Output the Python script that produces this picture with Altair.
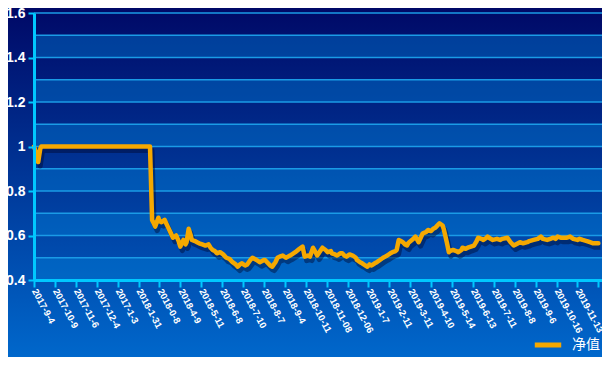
import json
import altair as alt
import pandas as pd

# trading-day index (one axis tick every 20 trading days) and net value
day = [0, 3, 4, 6, 7, 111, 113, 114, 116, 119, 120, 122, 125, 128, 130, 133, 136, 138, 140, 143,
       145, 146, 148, 150, 151, 154, 156, 158, 161, 164, 167, 169, 171, 173, 175, 178, 181, 184, 187, 190,
       193, 195, 197, 199, 202, 204, 207, 209, 213, 216, 220, 221, 224, 226, 228, 231, 233, 235, 238, 241,
       243, 245, 250, 254, 257, 259, 262, 264, 267, 270, 271, 276, 279, 281, 284, 285, 288, 290, 293, 295,
       297, 299, 302, 305, 308, 309, 312, 314, 317, 319, 321, 323, 326, 328, 331, 334, 336, 338, 341, 343,
       346, 347, 349, 351, 353, 355, 357, 358, 359, 363, 365, 368, 370, 372, 375, 377, 380, 382, 384, 385,
       388, 391, 392, 395, 397, 398, 401, 404, 406, 409, 410, 413, 415, 418, 421, 423, 425, 428, 430, 433,
       434, 437, 439, 443, 446, 448, 453, 456, 459, 461, 465, 468, 472, 474, 478, 482, 485, 487, 491, 494,
       497, 499, 501, 504, 506, 510, 513, 516, 520, 522, 525, 529, 532, 535, 540]
nav = [1.0, 0.96, 0.93, 0.99, 1.0, 1.0, 0.67, 0.66, 0.64, 0.68, 0.665, 0.66, 0.67, 0.64, 0.62, 0.59, 0.60, 0.58, 0.55, 0.58,
       0.56, 0.57, 0.63, 0.60, 0.58, 0.575, 0.57, 0.565, 0.56, 0.555, 0.56, 0.545, 0.535, 0.53, 0.52, 0.525, 0.515, 0.50, 0.495, 0.48,
       0.47, 0.46, 0.47, 0.475, 0.465, 0.47, 0.49, 0.50, 0.49, 0.48, 0.49, 0.49, 0.475, 0.465, 0.46, 0.48, 0.50, 0.505, 0.51, 0.50,
       0.505, 0.51, 0.525, 0.54, 0.55, 0.505, 0.51, 0.505, 0.545, 0.52, 0.51, 0.545, 0.535, 0.525, 0.53, 0.52, 0.515, 0.51, 0.52, 0.52,
       0.51, 0.505, 0.515, 0.51, 0.50, 0.49, 0.48, 0.475, 0.465, 0.46, 0.47, 0.465, 0.475, 0.48, 0.49, 0.50, 0.505, 0.51, 0.52, 0.525,
       0.53, 0.535, 0.58, 0.575, 0.57, 0.56, 0.555, 0.565, 0.57, 0.585, 0.595, 0.57, 0.59, 0.61, 0.615, 0.625, 0.62, 0.63, 0.635, 0.64,
       0.655, 0.645, 0.63, 0.57, 0.525, 0.53, 0.535, 0.53, 0.525, 0.535, 0.545, 0.54, 0.545, 0.55, 0.555, 0.57, 0.59, 0.585, 0.58, 0.59,
       0.595, 0.585, 0.58, 0.585, 0.58, 0.585, 0.59, 0.57, 0.555, 0.56, 0.57, 0.565, 0.57, 0.575, 0.58, 0.585, 0.595, 0.585, 0.58, 0.585,
       0.59, 0.585, 0.595, 0.59, 0.59, 0.59, 0.595, 0.585, 0.58, 0.585, 0.58, 0.575, 0.57, 0.565, 0.565]

tick_labels = ["2017-9-4", "2017-10-9", "2017-11-6", "2017-12-4", "2017-1-3", "2018-1-31", "2018-0-8",
               "2018-4-9", "2018-5-11", "2018-6-8", "2018-7-10", "2018-8-7", "2018-9-4", "2018-10-11",
               "2018-11-08", "2018-12-06", "2019-1-7", "2019-2-11", "2019-3-11", "2019-4-10", "2019-5-14",
               "2019-6-13", "2019-7-11", "2019-8-8", "2019-9-6", "2019-10-16", "2019-11-13"]
tick_days = [i * 20 for i in range(len(tick_labels) + 1)]

grid_levels = [0.4, 0.5, 0.6, 0.7, 0.8, 0.9, 1.0, 1.1, 1.2, 1.3, 1.4, 1.5, 1.6]
band_lo = [0.4, 0.6, 0.8, 1.0, 1.2, 1.4]
band_hi = [0.5, 0.7, 0.9, 1.1, 1.3, 1.5]
y_ticks = [0.4, 0.6, 0.8, 1.0, 1.2, 1.4, 1.6]

series_name = "净值"

W, H = 568, 267
PL, PT, PR, PB = 26, 5, 0, 77

df = pd.DataFrame({"day": day, "nav": nav, "s": [series_name] * len(day)})
bands = pd.DataFrame({"lo": band_lo, "hi": band_hi})
grid = pd.DataFrame({"v": grid_levels})

axis_color = "#00c8ff"
xscale = alt.Scale(domain=[0, 543.5], nice=False, zero=False)
yscale = alt.Scale(domain=[0.4, 1.6], nice=False, zero=False)

labels_js = json.dumps(tick_labels, ensure_ascii=False)
x_axis = alt.Axis(values=tick_days,
                  labelExpr=f"round(datum.value/20) < {len(tick_labels)} ? {labels_js}[round(datum.value/20)] : ''",
                  grid=False, domainColor=axis_color, domainWidth=3, tickColor=axis_color, tickWidth=2,
                  tickSize=7, labelAngle=62, labelAlign="left", labelBaseline="middle", labelColor="white",
                  labelFont="Liberation Sans", labelFontSize=9.5, labelFontWeight="bold", labelPadding=2,
                  labelOverlap=False, labelBound=False, title=None, zindex=1)
y_axis = alt.Axis(values=y_ticks, format="~g", grid=False, domainColor=axis_color, domainWidth=3,
                  tickColor=axis_color, tickWidth=2, tickSize=6, labelColor="white",
                  labelFont="Liberation Sans", labelFontSize=14, labelFontWeight="bold", labelPadding=3,
                  title=None, zindex=1)

bg = alt.Chart(pd.DataFrame({"a": [0]})).mark_rect(
    color=alt.Gradient(gradient="linear", x1=0, y1=0, x2=0, y2=1,
                       stops=[alt.GradientStop(offset=0, color="#000866"),
                              alt.GradientStop(offset=1, color="#0068cc")])
).encode(x=alt.value(-PL - 2), x2=alt.value(W + PR + 2), y=alt.value(-PT - 2), y2=alt.value(H + PB + 2))

band_layer = alt.Chart(bands).mark_rect(color="#0080d8", opacity=0.42).encode(
    y=alt.Y("lo:Q", scale=yscale, axis=y_axis), y2="hi:Q")

grid_layer = alt.Chart(grid).mark_rule(color="#1a9be6", strokeWidth=1.5).encode(
    y=alt.Y("v:Q", scale=yscale, axis=y_axis))

shadow = alt.Chart(df).mark_line(color="#000830", opacity=0.45, strokeWidth=5, xOffset=2, yOffset=4,
                                 strokeJoin="round").encode(
    x=alt.X("day:Q", scale=xscale, axis=x_axis), y=alt.Y("nav:Q", scale=yscale, axis=y_axis))

line = alt.Chart(df).mark_line(strokeWidth=4.5, strokeJoin="round", strokeCap="round").encode(
    x=alt.X("day:Q", scale=xscale, axis=x_axis),
    y=alt.Y("nav:Q", scale=yscale, axis=y_axis),
    color=alt.Color("s:N", scale=alt.Scale(domain=[series_name], range=["#f5a800"]),
                    legend=alt.Legend(title=None, orient="none", legendX=498, legendY=316,
                                      symbolType="stroke", symbolStrokeWidth=5, symbolSize=700,
                                      labelColor="white", labelFont="Noto Sans CJK SC", labelFontSize=14,
                                      labelOffset=8)))

chart = alt.layer(bg, band_layer, grid_layer, shadow, line).properties(
    width=W, height=H,
    padding={"left": PL, "top": PT, "right": PR, "bottom": PB},
    autosize=alt.AutoSizeParams(type="none"),
    background="#0068cc",
).configure_view(stroke=None)

chart.save("out.html", embed_options={"renderer": "svg", "actions": False})
